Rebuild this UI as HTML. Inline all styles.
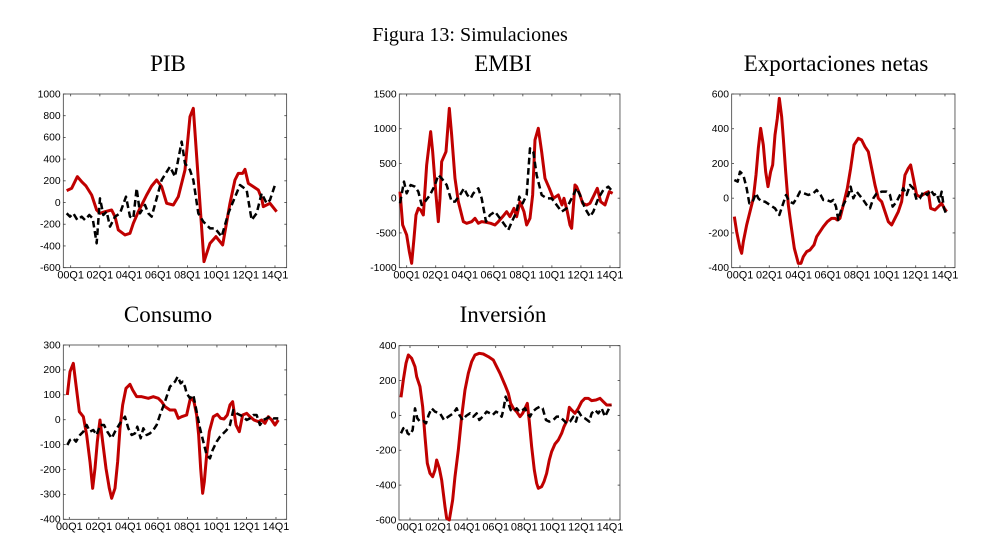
<!DOCTYPE html>
<html><head><meta charset="utf-8"><style>
html,body{margin:0;padding:0;background:#fff;}
svg{display:block;}
</style></head><body>
<svg id="s" width="987" height="556" viewBox="0 0 987 556" xmlns="http://www.w3.org/2000/svg">
<rect width="987" height="556" fill="#fff"/>
<g font-family="'Liberation Serif',serif" fill="#000" text-anchor="middle">
<text x="470" y="41" font-size="20">Figura 13: Simulaciones</text>
<text x="168" y="71" font-size="23">PIB</text>
<text x="503" y="71" font-size="23">EMBI</text>
<text x="836" y="71" font-size="23">Exportaciones netas</text>
<text x="168" y="322" font-size="23">Consumo</text>
<text x="503" y="322" font-size="23">Inversión</text>
</g>
</svg>
<script>
var P=[
{o:[0,80],b:[190,860,42,563],yl:[1000,800,600,400,200,0,-200,-400,-600],xl:[212,825],
r:[[200,332],[215,325],[232,290],[245,305],[258,318],[275,345],[290,390],[300,400],[315,395],[335,390],[345,410],[355,450],[375,465],[390,460],[400,430],[415,395],[430,365],[440,345],[455,318],[470,300],[485,320],[500,370],[520,375],[535,350],[555,270],[570,110],[580,85],[595,300],[612,545],[630,490],[648,470],[668,495],[690,370],[705,300],[715,280],[728,280],[735,268],[745,310],[760,320],[775,330],[785,355],[790,380],[810,370],[830,395]],
k:[[200,400],[210,410],[220,400],[232,420],[245,410],[255,420],[268,405],[278,415],[290,490],[300,355],[310,405],[320,395],[330,440],[345,410],[360,400],[378,350],[390,410],[400,415],[410,325],[420,400],[435,375],[445,400],[455,410],[485,300],[510,260],[525,290],[545,185],[555,250],[570,270],[580,300],[595,400],[610,425],[630,445],[645,445],[665,470],[685,400],[720,315],[740,330],[755,420],[770,400],[785,340],[800,370],[810,360],[825,315]]},
{o:[360,85],b:[118,780,27,548],yl:[1500,1000,500,0,-500,-1000],xl:[140,750],
r:[[120,320],[128,420],[140,450],[148,500],[155,535],[162,460],[168,390],[175,370],[182,375],[190,390],[200,240],[212,140],[218,200],[228,330],[235,410],[240,340],[245,230],[258,200],[268,70],[275,150],[285,280],[295,350],[310,410],[320,415],[335,410],[345,400],[355,415],[365,410],[378,412],[392,415],[405,420],[415,410],[428,395],[440,380],[450,395],[462,370],[470,395],[480,350],[492,380],[500,420],[510,400],[518,330],[525,165],[535,130],[545,200],[555,280],[568,310],[580,340],[595,330],[606,360],[612,340],[622,380],[630,420],[635,430],[645,300],[650,305],[660,330],[668,355],[680,360],[690,355],[700,335],[712,310],[722,350],[735,360],[748,320],[758,325]],
k:[[120,355],[132,290],[140,325],[152,300],[165,305],[175,320],[185,360],[195,350],[210,330],[225,300],[235,270],[245,280],[260,300],[275,350],[285,350],[300,330],[312,310],[322,330],[332,340],[340,325],[355,310],[365,340],[378,410],[390,390],[405,380],[420,400],[445,435],[458,405],[470,380],[478,335],[488,355],[500,330],[510,190],[520,200],[530,270],[545,330],[560,340],[575,340],[590,360],[605,380],[620,370],[635,340],[650,310],[660,330],[675,370],[690,395],[700,380],[715,340],[730,315],[745,305],[758,320]]},
{o:[690,85],b:[125,795,27,548],yl:[600,400,200,0,-200,-400],xl:[150,765],
r:[[133,395],[140,440],[150,490],[155,505],[160,470],[170,420],[180,380],[190,340],[198,270],[205,190],[212,130],[220,180],[227,260],[234,305],[242,260],[248,240],[255,150],[262,100],[268,40],[275,95],[280,160],[287,260],[295,360],[303,420],[313,490],[325,535],[333,535],[340,515],[350,500],[360,495],[372,480],[380,455],[390,440],[400,425],[412,410],[425,400],[435,400],[442,405],[450,400],[460,360],[472,310],[482,250],[492,180],[505,160],[515,165],[525,185],[535,200],[545,250],[555,300],[565,340],[575,350],[585,380],[595,410],[605,420],[615,400],[625,380],[635,350],[645,270],[655,250],[662,240],[670,280],[680,330],[690,335],[705,325],[715,320],[722,370],[735,375],[745,365],[755,355],[763,370],[770,380]],
k:[[133,285],[143,290],[150,260],[160,270],[170,310],[178,355],[188,350],[198,325],[205,340],[215,350],[225,350],[240,360],[255,370],[268,390],[278,360],[288,330],[298,350],[310,355],[320,340],[330,320],[342,325],[355,330],[370,325],[380,315],[392,330],[400,345],[410,345],[422,350],[430,345],[438,365],[445,405],[455,370],[465,350],[475,330],[482,305],[490,340],[500,320],[508,330],[520,345],[530,360],[540,370],[550,340],[560,325],[575,320],[590,320],[600,330],[608,365],[620,350],[630,330],[640,310],[650,330],[660,300],[670,310],[680,345],[690,340],[700,320],[712,330],[722,315],[732,330],[740,325],[748,350],[755,320],[762,370],[770,390]]},
{o:[20,335],b:[130,800,30,553],yl:[300,200,100,0,-100,-200,-300,-400],xl:[148,768],
r:[[142,180],[150,110],[160,85],[168,150],[178,230],[190,245],[200,300],[210,380],[218,460],[225,400],[232,320],[240,255],[248,320],[258,400],[268,460],[275,490],[285,460],[293,380],[300,280],[308,210],[318,160],[330,148],[338,165],[350,185],[365,185],[385,190],[400,185],[415,190],[425,200],[435,215],[450,225],[465,225],[475,250],[485,245],[500,240],[510,195],[515,190],[522,200],[530,240],[536,300],[542,400],[548,475],[553,440],[560,360],[568,290],[580,245],[592,238],[602,250],[612,252],[622,240],[630,210],[638,200],[648,270],[658,290],[668,240],[680,235],[690,245],[702,255],[715,260],[725,255],[735,265],[745,245],[755,255],[765,270],[775,255]],
k:[[142,330],[150,315],[160,310],[168,320],[180,300],[190,290],[200,270],[210,290],[220,285],[230,300],[240,270],[252,270],[262,290],[275,310],[285,290],[300,265],[315,245],[325,280],[335,300],[345,295],[352,275],[362,310],[370,280],[380,300],[390,295],[400,285],[410,270],[420,240],[435,200],[450,155],[465,140],[473,125],[482,145],[488,140],[495,155],[500,175],[510,190],[520,180],[530,230],[540,280],[550,320],[560,360],[570,370],[578,345],[590,320],[600,305],[610,295],[620,285],[630,270],[640,225],[650,235],[660,240],[670,245],[680,255],[690,250],[700,240],[710,240],[720,270],[730,255],[740,250],[750,245],[760,250],[775,250]]},
{o:[340,320],b:[177,840,77,600],yl:[400,200,0,-200,-400,-600],xl:[210,810],
r:[[183,232],[190,180],[198,130],[205,105],[215,115],[225,140],[230,170],[240,200],[248,260],[255,350],[262,430],[270,460],[278,470],[285,450],[290,420],[298,445],[305,480],[310,520],[315,560],[320,595],[328,600],[338,540],[345,470],[355,390],[365,290],[375,210],[385,160],[395,125],[405,105],[418,100],[430,102],[445,110],[460,120],[470,140],[480,160],[495,195],[505,220],[512,250],[520,265],[530,275],[540,290],[548,280],[556,263],[562,250],[568,305],[575,380],[583,450],[590,490],[595,505],[605,500],[612,485],[620,460],[628,420],[635,395],[645,372],[655,360],[665,340],[672,320],[682,300],[688,262],[695,270],[705,280],[715,265],[725,245],[735,235],[745,235],[755,242],[768,240],[780,235],[790,245],[800,255],[815,255]],
k:[[183,340],[190,325],[197,322],[203,340],[210,345],[218,330],[225,265],[232,295],[240,305],[250,303],[258,310],[266,285],[275,265],[285,275],[300,280],[312,300],[325,290],[340,280],[350,265],[358,285],[368,300],[378,288],[390,280],[400,290],[410,280],[418,300],[428,290],[440,275],[450,280],[458,285],[468,275],[478,280],[485,290],[490,270],[497,230],[505,250],[512,270],[520,275],[530,265],[538,275],[548,270],[555,265],[562,280],[570,290],[578,275],[590,265],[600,260],[608,265],[618,300],[628,305],[640,300],[650,290],[660,290],[670,300],[680,310],[690,305],[700,290],[708,305],[716,275],[725,290],[735,295],[748,305],[755,280],[765,270],[775,280],[785,265],[795,290],[805,270],[812,255]]}
];
var ns="http://www.w3.org/2000/svg",s=document.getElementById("s");
function el(t,a,p){var e=document.createElementNS(ns,t);for(var k in a)e.setAttribute(k,a[k]);(p||s).appendChild(e);return e;}
var XL=["00Q1","02Q1","04Q1","06Q1","08Q1","10Q1","12Q1","14Q1"];
P.forEach(function(p){
 var g=el("g",{transform:"translate("+p.o[0]+","+p.o[1]+") scale(0.3333)"});
 var b=p.b,x0=b[0],x1=b[1],y0=b[2],y1=b[3];
 el("rect",{x:x0,y:y0,width:x1-x0,height:y1-y0,fill:"#fff",stroke:"#444","stroke-width":2.5},g);
 var n=p.yl.length;
 p.yl.forEach(function(v,i){
  var y=y0+(y1-y0)*i/(n-1);
  el("line",{x1:x0,x2:x0+7,y1:y,y2:y,stroke:"#444","stroke-width":2.5},g);
  el("line",{x1:x1,x2:x1-7,y1:y,y2:y,stroke:"#444","stroke-width":2.5},g);
  var t=el("text",{x:x0-8,y:y+10,"font-size":31,"font-family":"'Liberation Sans',sans-serif","text-anchor":"end",fill:"#000"},g);
  t.textContent=v;
 });
 for(var i=0;i<8;i++){
  var x=p.xl[0]+(p.xl[1]-p.xl[0])*i/7;
  el("line",{x1:x,x2:x,y1:y1,y2:y1-7,stroke:"#444","stroke-width":2.5},g);
  el("line",{x1:x,x2:x,y1:y0,y2:y0+7,stroke:"#444","stroke-width":2.5},g);
  var t=el("text",{x:x,y:y1+32,"font-size":33,"font-family":"'Liberation Sans',sans-serif","text-anchor":"middle",fill:"#000",textLength:80,lengthAdjust:"spacingAndGlyphs"},g);
  t.textContent=XL[i];
 }
 el("polyline",{points:p.r.join(" "),fill:"none",stroke:"#c00000","stroke-width":9,"stroke-linejoin":"round"},g);
 el("polyline",{points:p.k.join(" "),fill:"none",stroke:"#000","stroke-width":7.5,"stroke-dasharray":"20,11","stroke-linejoin":"round"},g);
});
</script>
</body></html>
